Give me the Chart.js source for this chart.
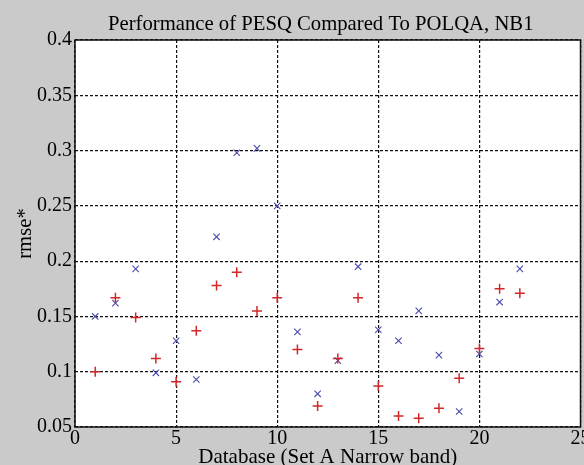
<!DOCTYPE html>
<html lang="en">
<head>
    <meta charset="UTF-8">
    <title>Performance of PESQ Compared To POLQA, NB1</title>
    <script src="https://cdn.jsdelivr.net/npm/chart.js"></script>
    <style>
        html, body { margin: 0; padding: 0; background: #cacaca; overflow: hidden; }
        /* the original figure is cropped on the right: the "25" label runs off the edge */
        #wrap { width: 584px; height: 465px; overflow: hidden; }
        #rmseChart { display: block; }
    </style>
</head>
<body>
    <div id="wrap"><canvas id="rmseChart" width="587" height="465"></canvas></div>

    <script>
        // database index (Set A narrow band)
        const databases = [1, 2, 3, 4, 5, 6, 7, 8, 9, 10, 11, 12, 13, 14, 15, 16, 17, 18, 19, 20, 21, 22];

        // blue "x" markers
        const blueValues = [0.150, 0.162, 0.193, 0.099, 0.128, 0.093, 0.222, 0.298, 0.302, 0.250, 0.136, 0.080,
                            0.110, 0.195, 0.138, 0.128, 0.155, 0.115, 0.064, 0.116, 0.163, 0.193];
        // red "+" markers
        const redValues = [0.100, 0.167, 0.149, 0.112, 0.091, 0.137, 0.178, 0.190, 0.155, 0.167, 0.120, 0.069,
                           0.112, 0.167, 0.087, 0.060, 0.058, 0.067, 0.094, 0.121, 0.175, 0.171];

        const xTickValues = [0, 5, 10, 15, 20, 25];
        const yTickValues = [0.05, 0.1, 0.15, 0.2, 0.25, 0.3, 0.35, 0.4];
        const yTickLabels = ['0.05', '0.1', '0.15', '0.2', '0.25', '0.3', '0.35', '0.4'];

        const chartTitle = 'Performance of PESQ Compared To POLQA, NB1';
        const serif = '"Liberation Serif", "DejaVu Serif", serif';

        function toPoints(values) {
            return databases.map((d, i) => ({ x: d, y: values[i] }));
        }

        // white plot area, black frame, and the title (sits a bit left of the plot centre)
        const plotFrame = {
            id: 'plotFrame',
            beforeDraw(chart) {
                const { ctx, chartArea: a } = chart;
                ctx.save();
                ctx.fillStyle = '#ffffff';
                ctx.fillRect(a.left, a.top, a.right - a.left, a.bottom - a.top);
                ctx.fillStyle = '#000';
                ctx.font = '20.7px ' + serif;
                ctx.textAlign = 'center';
                ctx.textBaseline = 'alphabetic';
                ctx.fillText(chartTitle, (a.left + a.right) / 2 - 7, 30);
                ctx.restore();
            },
            afterDatasetsDraw(chart) {
                const { ctx, chartArea: a } = chart;
                ctx.save();
                ctx.strokeStyle = '#111';
                ctx.lineWidth = 1.5;
                ctx.strokeRect(a.left, a.top, a.right - a.left, a.bottom - a.top);
                ctx.restore();
            }
        };

        const ctx = document.getElementById('rmseChart').getContext('2d');
        new Chart(ctx, {
            type: 'scatter',
            data: {
                datasets: [{
                    label: 'POLQA',
                    data: toPoints(redValues),
                    pointStyle: 'cross',
                    pointRadius: 5,
                    pointBorderWidth: 1.5,
                    borderColor: '#d02828',
                    backgroundColor: '#d02828'
                }, {
                    label: 'PESQ',
                    data: toPoints(blueValues),
                    pointStyle: 'crossRot',
                    pointRadius: 4.5,
                    pointBorderWidth: 1.1,
                    borderColor: '#4a4aae',
                    backgroundColor: '#4a4aae'
                }]
            },
            options: {
                responsive: false,
                animation: false,
                layout: { padding: { left: 0, right: 0, top: 40, bottom: 0 } },
                plugins: {
                    legend: { display: false },
                    tooltip: { enabled: false },
                    title: { display: false }
                },
                scales: {
                    x: {
                        type: 'linear',
                        min: 0,
                        max: 25,
                        afterFit(scale) {
                            scale.height = 38;
                            scale.paddingLeft = 0;
                            scale.paddingRight = 0;
                        },
                        afterBuildTicks(scale) { scale.ticks = xTickValues.map(v => ({ value: v })); },
                        ticks: {
                            color: '#000',
                            padding: 0,
                            font: { family: serif, size: 20 },
                            callback: v => String(v)
                        },
                        grid: { color: '#111', lineWidth: 1.2, drawTicks: false },
                        border: { display: false, dash: [3, 2] },
                        title: {
                            display: true,
                            text: 'Database (Set A Narrow band)',
                            color: '#000',
                            font: { family: serif, size: 21, lineHeight: 0.7 },
                            padding: { top: 0, bottom: 0 }
                        }
                    },
                    y: {
                        min: 0.05,
                        max: 0.4,
                        afterFit(scale) {
                            scale.width = 75;
                            scale.paddingTop = 0;
                            scale.paddingBottom = 0;
                        },
                        afterBuildTicks(scale) { scale.ticks = yTickValues.map(v => ({ value: v })); },
                        ticks: {
                            color: '#000',
                            padding: 3,
                            font: { family: serif, size: 20 },
                            callback: v => yTickLabels[yTickValues.findIndex(t => Math.abs(t - v) < 1e-9)]
                        },
                        grid: { color: '#111', lineWidth: 1.2, drawTicks: false },
                        border: { display: false, dash: [3, 2] },
                        title: {
                            display: true,
                            text: 'rmse*',
                            color: '#000',
                            font: { family: serif, size: 20.7 },
                            padding: { top: 13, bottom: 0 }
                        }
                    }
                }
            },
            plugins: [plotFrame]
        });
    </script>
</body>
</html>
